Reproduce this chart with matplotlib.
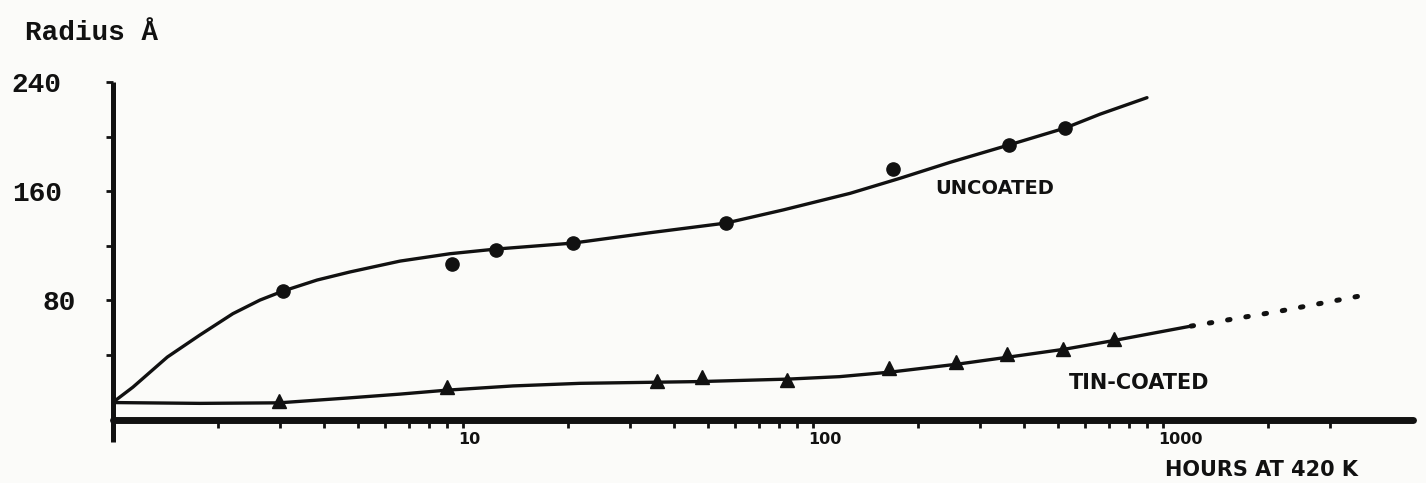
import matplotlib.pyplot as plt
from matplotlib.ticker import NullFormatter
from matplotlib.transforms import ScaledTranslation

# measured points (hours at 420 K, radius in angstrom)
hours_uncoated = [3.06, 9.3, 12.4, 20.6, 56.4, 169, 363, 525]
radius_uncoated = [86.6, 106.4, 116.7, 121.8, 136.5, 176.0, 193.8, 206.2]

hours_tin = [2.98, 9.0, 35.8, 48.2, 84.3, 165, 256, 358, 518, 724]
radius_tin = [5.9, 16.1, 20.6, 23.5, 21.3, 30.1, 34.5, 40.4, 44.0, 51.4]

# hand-drawn fit curves
fit_hours_uncoated = [1.0, 1.14, 1.43, 1.77, 2.20, 2.63, 3.06, 3.83, 4.75, 6.61, 9.18,
                      12.4, 20.6, 34.2, 56.4, 82.1, 127.6, 177, 246, 363, 525, 661, 900]
fit_radius_uncoated = [5.0, 16.1, 38.2, 54.3, 70.0, 80.0, 86.6, 94.7, 100.6, 108.6, 114.0,
                       117.4, 121.8, 129.4, 136.5, 146.1, 158.3, 169.3, 181.0, 193.8, 206.2,
                       216.4, 228.5]

fit_hours_tin = [1.0, 1.77, 2.98, 4.66, 6.61, 9.0, 13.9, 21.6, 47.5, 84.7, 119, 167,
                 259, 363, 525, 734, 1203]
fit_radius_tin = [4.8, 4.2, 4.6, 8.1, 11.0, 13.9, 17.0, 18.9, 20.2, 22.0, 23.8, 27.2,
                  33.0, 38.2, 44.0, 50.6, 60.9]

# extrapolated part of the tin-coated curve
ext_hours_tin = [1203, 2159, 3902]
ext_radius_tin = [60.9, 71.9, 84.4]

y_major = [80, 160, 240]
y_minor = [40, 120, 200]
x_major = [10, 100, 1000]
x_minor = [m * 10 ** k for k in (0, 1, 2) for m in range(2, 10)] + [2000, 3000]

ink = '#111111'
paper = '#fbfbf9'

fig = plt.figure(figsize=(14.26, 4.83), dpi=100, facecolor=paper)
ax = fig.add_axes([113 / 1426, 63 / 483, 1300 / 1426, 338 / 483])
ax.set_facecolor('none')
ax.set_xscale('log')
ax.set_xlim(1, 5180)
ax.set_ylim(-8, 240)

for side in ('top', 'right', 'left'):
    ax.spines[side].set_visible(False)
ax.spines['bottom'].set_linewidth(5)
ax.spines['bottom'].set_color(ink)
ax.spines['bottom'].set_capstyle('round')

# vertical axis runs a little past the horizontal one
ax.plot([1, 1], [-24, 240], color=ink, lw=3.6, clip_on=False, solid_capstyle='butt')

# curves and points
ax.plot(fit_hours_uncoated, fit_radius_uncoated, color=ink, lw=2.4,
        solid_capstyle='round', solid_joinstyle='round')
ax.plot(hours_uncoated, radius_uncoated, 'o', ms=9.5, color=ink)
ax.plot(fit_hours_tin, fit_radius_tin, color=ink, lw=2.4,
        solid_capstyle='round', solid_joinstyle='round')
ax.plot(hours_tin, radius_tin, '^', ms=10, color=ink)
ax.plot(ext_hours_tin, ext_radius_tin, color=ink, lw=3.6,
        linestyle=(0, (0.5, 3.2)), dash_capstyle='round')

ax.text(331, 162, 'UNCOATED', ha='center', va='center', fontsize=14,
        fontweight='bold', color=ink)
ax.text(854, 19, 'TIN-COATED', ha='center', va='center', fontsize=15,
        fontweight='bold', color=ink)

# ticks
ax.set_xticks(x_major, labels=[str(v) for v in x_major], fontsize=11.5,
              fontweight='bold', color=ink)
ax.set_xticks(x_minor, minor=True)
ax.xaxis.set_minor_formatter(NullFormatter())
ax.tick_params(axis='x', which='both', direction='out', length=6, width=2,
               color=ink, pad=3)

ax.set_yticks(y_major, labels=[str(v) for v in y_major], fontfamily='Liberation Mono',
              fontsize=20, fontweight='bold', color=ink)
ax.set_yticks(y_minor, minor=True)
ax.tick_params(axis='y', which='both', direction='out', length=5, width=2,
               color=ink, pad=32)

for lab in ax.get_xticklabels():
    lab.set_ha('left')
    lab.set_transform(lab.get_transform() + ScaledTranslation(-0.05, 0, fig.dpi_scale_trans))
lab80 = ax.get_yticklabels()[0]
lab80.set_transform(lab80.get_transform() + ScaledTranslation(0.14, 0, fig.dpi_scale_trans))

fig.text(25 / 1426, 1 - 40 / 483, 'Radius Å', family='Liberation Mono', fontweight='bold',
         fontsize=20, va='baseline', color=ink)
fig.text(1165 / 1426, 1 - 470 / 483, 'HOURS AT 420 K', va='center', fontsize=15,
         fontweight='bold', color=ink)

fig.savefig('out.png', dpi=100, facecolor=paper)
